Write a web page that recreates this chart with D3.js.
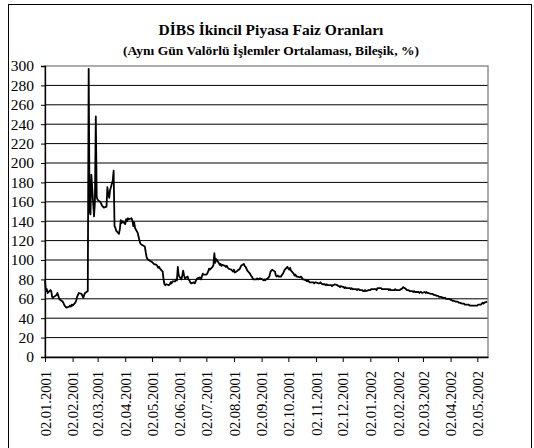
<!DOCTYPE html>
<html><head><meta charset="utf-8">
<script src="https://cdn.jsdelivr.net/npm/d3@7"></script>
<style>
body{margin:0;background:#fff;}
svg{display:block;}
text{font-family:"Liberation Serif","DejaVu Serif",serif;fill:#000;}
</style></head>
<body><svg id="c" width="534" height="448"></svg>
<script>
const title = "DİBS İkincil Piyasa Faiz Oranları";
const subtitle = "(Aynı Gün Valörlü İşlemler Ortalaması, Bileşik, %)";
const tickLabels = ["02.01.2001","02.02.2001","02.03.2001","02.04.2001","02.05.2001","02.06.2001","02.07.2001","02.08.2001","02.09.2001","02.10.2001","02.11.2001","02.12.2001","02.01.2002","02.02.2002","02.03.2002","02.04.2002","02.05.2002"];
const yTicks = [0,20,40,60,80,100,120,140,160,180,200,220,240,260,280,300];
const series = [
["2001-01-02",79],["2001-01-03",68],["2001-01-04",70],["2001-01-05",66],["2001-01-08",69],["2001-01-09",68],["2001-01-10",62],["2001-01-11",61],["2001-01-12",62],["2001-01-15",64],["2001-01-16",66],["2001-01-17",63],["2001-01-18",60],["2001-01-19",59],["2001-01-22",57],["2001-01-23",55],["2001-01-24",53],["2001-01-25",52],["2001-01-26",51],["2001-01-29",52],["2001-01-30",53],["2001-01-31",52],["2001-02-01",54],["2001-02-02",53],["2001-02-05",56],["2001-02-06",58],["2001-02-07",62],["2001-02-08",64],["2001-02-09",66],["2001-02-12",65],["2001-02-13",63],["2001-02-14",61],["2001-02-15",64],["2001-02-16",66],["2001-02-19",68],
["2001-02-20",297],["2001-02-21",150],["2001-02-22",147],["2001-02-23",188],["2001-02-26",145],["2001-02-27",160],["2001-02-28",248],["2001-03-01",165],["2001-03-02",162],["2001-03-05",160],["2001-03-06",158],["2001-03-07",156],["2001-03-08",155],["2001-03-09",154],["2001-03-12",155],["2001-03-13",175],["2001-03-14",168],["2001-03-15",164],["2001-03-16",172],["2001-03-19",182],["2001-03-20",192],["2001-03-21",135],["2001-03-22",133],["2001-03-23",130],["2001-03-26",127],["2001-03-27",132],["2001-03-28",141],["2001-03-29",138],["2001-03-30",140],
["2001-04-02",137],["2001-04-03",142],["2001-04-04",140],["2001-04-05",143],["2001-04-06",142],["2001-04-09",143],["2001-04-10",141],["2001-04-11",135],["2001-04-12",139],["2001-04-13",133],["2001-04-16",128],["2001-04-17",124],["2001-04-18",120],["2001-04-19",117],["2001-04-20",116],["2001-04-24",114],["2001-04-25",108],["2001-04-26",103],["2001-04-27",101],["2001-04-30",99],
["2001-05-02",98],["2001-05-03",97],["2001-05-04",96],["2001-05-07",95],["2001-05-08",94],["2001-05-09",92],["2001-05-10",93],["2001-05-11",91],["2001-05-14",88],["2001-05-15",80],["2001-05-16",75],["2001-05-17",74],["2001-05-18",75],["2001-05-21",74],["2001-05-22",75],["2001-05-23",77],["2001-05-24",76],["2001-05-25",78],["2001-05-28",78],["2001-05-29",80],["2001-05-30",79],["2001-05-31",93],
["2001-06-01",84],["2001-06-04",80],["2001-06-05",84],["2001-06-06",89],["2001-06-07",84],["2001-06-08",81],["2001-06-11",83],["2001-06-12",80],["2001-06-13",79],["2001-06-14",77],["2001-06-15",76],["2001-06-18",77],["2001-06-19",76],["2001-06-20",78],["2001-06-21",80],["2001-06-22",81],["2001-06-25",82],["2001-06-26",80],["2001-06-27",83],["2001-06-28",86],["2001-06-29",85],
["2001-07-02",85],["2001-07-03",86],["2001-07-04",88],["2001-07-05",91],["2001-07-06",90],["2001-07-09",93],["2001-07-10",95],["2001-07-11",107],["2001-07-12",97],["2001-07-13",101],["2001-07-16",97],["2001-07-17",95],["2001-07-18",96],["2001-07-19",94],["2001-07-20",95],["2001-07-23",94],["2001-07-24",93],["2001-07-25",94],["2001-07-26",92],["2001-07-27",91],["2001-07-30",90],["2001-07-31",89],
["2001-08-01",88],["2001-08-02",90],["2001-08-03",87],["2001-08-06",89],["2001-08-07",90],["2001-08-08",90],["2001-08-09",92],["2001-08-10",94],["2001-08-13",96],["2001-08-14",94],["2001-08-15",93],["2001-08-16",91],["2001-08-17",89],["2001-08-20",86],["2001-08-21",84],["2001-08-22",83],["2001-08-23",81],["2001-08-24",80],["2001-08-27",80],["2001-08-28",81],["2001-08-29",80],["2001-08-31",81],
["2001-09-03",80],["2001-09-04",79],["2001-09-05",80],["2001-09-06",79],["2001-09-07",80],["2001-09-10",82],["2001-09-11",84],["2001-09-12",88],["2001-09-13",89],["2001-09-14",90],["2001-09-17",88],["2001-09-18",84],["2001-09-19",83],["2001-09-20",84],["2001-09-21",83],["2001-09-24",83],["2001-09-25",85],["2001-09-26",86],["2001-09-27",88],["2001-09-28",90],
["2001-10-01",93],["2001-10-02",91],["2001-10-03",90],["2001-10-04",92],["2001-10-05",89],["2001-10-08",86],["2001-10-09",84],["2001-10-10",85],["2001-10-11",83],["2001-10-12",83],["2001-10-15",82],["2001-10-16",83],["2001-10-17",82],["2001-10-18",80],["2001-10-19",80],["2001-10-22",79],["2001-10-23",78],["2001-10-24",79],["2001-10-25",78],["2001-10-26",77],["2001-10-30",77],["2001-10-31",76],
["2001-11-01",77],["2001-11-02",77],["2001-11-05",76],["2001-11-06",76],["2001-11-07",77],["2001-11-08",76],["2001-11-09",75],["2001-11-12",75],["2001-11-13",74],["2001-11-14",75],["2001-11-15",74],["2001-11-16",74],["2001-11-19",74],["2001-11-20",73],["2001-11-21",74],["2001-11-22",74],["2001-11-23",75],["2001-11-26",74],["2001-11-27",73],["2001-11-28",73],["2001-11-29",72],["2001-11-30",73],
["2001-12-03",72],["2001-12-04",71],["2001-12-05",72],["2001-12-06",71],["2001-12-07",71],["2001-12-10",71],["2001-12-11",70],["2001-12-12",71],["2001-12-13",70],["2001-12-14",70],["2001-12-17",70],["2001-12-18",69],["2001-12-19",70],["2001-12-20",70],["2001-12-21",69],["2001-12-24",69],["2001-12-25",68],["2001-12-26",68],["2001-12-27",69],["2001-12-28",68],["2001-12-31",69],
["2002-01-02",69],["2002-01-03",70],["2002-01-04",70],["2002-01-07",70],["2002-01-08",70],["2002-01-09",69],["2002-01-10",71],["2002-01-11",71],["2002-01-14",71],["2002-01-15",70],["2002-01-16",70],["2002-01-17",70],["2002-01-18",70],["2002-01-21",70],["2002-01-22",70],["2002-01-23",69],["2002-01-24",70],["2002-01-25",69],["2002-01-28",69],["2002-01-29",69],["2002-01-30",70],["2002-01-31",69],
["2002-02-01",69],["2002-02-04",69],["2002-02-05",70],["2002-02-06",70],["2002-02-07",71],["2002-02-08",72],["2002-02-11",70],["2002-02-12",69],["2002-02-13",69],["2002-02-14",69],["2002-02-15",68],["2002-02-18",68],["2002-02-19",67],["2002-02-20",68],["2002-02-21",67],["2002-02-22",67],["2002-02-25",67],["2002-02-26",66],["2002-02-27",67],["2002-02-28",67],
["2002-03-01",66],["2002-03-04",67],["2002-03-05",66],["2002-03-06",67],["2002-03-07",66],["2002-03-08",66],["2002-03-11",65],["2002-03-12",65],["2002-03-13",65],["2002-03-14",64],["2002-03-15",64],["2002-03-18",63],["2002-03-19",63],["2002-03-20",62],["2002-03-21",62],["2002-03-22",62],["2002-03-25",61],["2002-03-26",61],["2002-03-27",61],["2002-03-28",60],["2002-03-29",60],
["2002-04-01",60],["2002-04-02",59],["2002-04-03",59],["2002-04-04",58],["2002-04-05",58],["2002-04-08",57],["2002-04-09",57],["2002-04-10",57],["2002-04-11",56],["2002-04-12",56],["2002-04-15",55],["2002-04-16",55],["2002-04-17",55],["2002-04-18",54],["2002-04-19",54],["2002-04-22",54],["2002-04-24",53],["2002-04-25",53],["2002-04-26",53],["2002-04-29",53],["2002-04-30",53],
["2002-05-02",53],["2002-05-03",54],["2002-05-06",54],["2002-05-07",55],["2002-05-08",56],["2002-05-09",55],["2002-05-10",56],["2002-05-13",57]
];
const xStart = "2001-01-02", xEnd = "2002-05-14";

const svg = d3.select("#c");
const m = {left:45, right:488, top:66, bottom:357};
const parseISO = d3.timeParse("%Y-%m-%d");
const parseLbl = d3.timeParse("%d.%m.%Y");
const data = series.map(d => ({date: parseISO(d[0]), value: d[1]}));

const x = d3.scaleTime().domain([parseISO(xStart), parseISO(xEnd)]).range([m.left, m.right]);
const y = d3.scaleLinear().domain([0,300]).range([m.bottom, m.top]);

// outer frame
svg.append("rect").attr("x",8.5).attr("y",4.5).attr("width",523).attr("height",460)
  .attr("fill","none").attr("stroke","#000").attr("stroke-width",1);

// titles
svg.append("text").attr("x",271).attr("y",35).attr("text-anchor","middle")
  .style("font-size","15.5px").style("font-weight","bold").text(title);
svg.append("text").attr("x",271).attr("y",55).attr("text-anchor","middle")
  .style("font-size","13.5px").style("font-weight","bold").text(subtitle);

// gridlines
svg.append("g").selectAll("line").data(yTicks.filter(v => v>0 && v<300)).join("line")
  .attr("x1",m.left).attr("x2",m.right)
  .attr("y1",d=>y(d)).attr("y2",d=>y(d))
  .attr("stroke","#000").attr("stroke-width",1);

// plot border
svg.append("rect").attr("x",m.left).attr("y",m.top).attr("width",m.right-m.left).attr("height",m.bottom-m.top)
  .attr("fill","none").attr("stroke","#808080").attr("stroke-width",1.3);

// y axis
const yAxis = d3.axisLeft(y).tickValues(yTicks).tickSize(4).tickPadding(7).tickFormat(d3.format("d"));
const gy = svg.append("g").attr("transform",`translate(${m.left},0)`).call(yAxis);
gy.select(".domain").attr("stroke","#000").attr("stroke-width",1.3);
gy.selectAll(".tick line").attr("stroke","#000");
gy.selectAll("text").style("font-size","15.5px").style("font-family","'Liberation Serif',serif").attr("fill","#000");

// x axis
const xTickDates = tickLabels.map(s => parseLbl(s));
const xAxis = d3.axisBottom(x).tickValues(xTickDates).tickSize(5).tickSizeOuter(0).tickFormat((d,i)=>tickLabels[i]);
const gx = svg.append("g").attr("transform",`translate(0,${m.bottom})`).call(xAxis);
gx.select(".domain").attr("stroke","#000").attr("stroke-width",1.3);
gx.selectAll(".tick line").attr("stroke","#000");
gx.selectAll("text").style("font-size","14.5px").style("font-family","'Liberation Serif',serif").attr("fill","#000")
  .attr("text-anchor","end").attr("transform","rotate(-90)")
  .attr("x",-14).attr("y",0).attr("dy","0.35em");

// line
const line = d3.line().x(d=>x(d.date)).y(d=>y(d.value));
svg.append("path").datum(data).attr("d",line).attr("fill","none")
  .attr("stroke","#000").attr("stroke-width",1.8).attr("stroke-linejoin","round");
</script></body></html>
